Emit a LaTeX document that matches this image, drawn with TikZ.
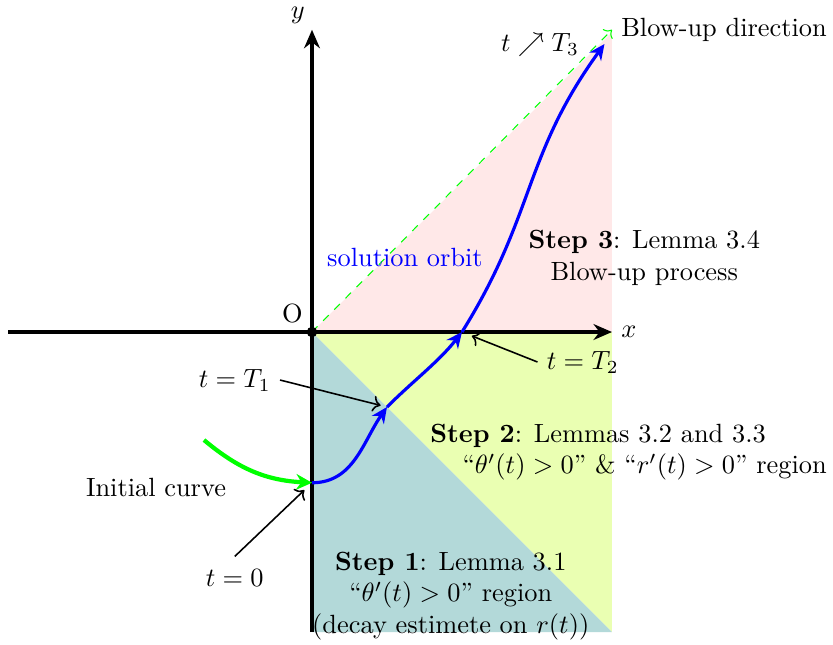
\documentclass[tikz,border=0pt]{standalone}
\usepackage{amsmath,amssymb}
\usetikzlibrary{positioning,arrows.meta,calc}
\definecolor{pinktint}{RGB}{255,232,232}
\definecolor{limetint}{RGB}{234,255,178}
\definecolor{tealtint}{RGB}{179,217,217}
\tikzset{
  axisline/.style={-{Stealth[length=7pt,width=6pt]}, very thick},
  orbit/.style={-{Stealth[length=6pt,width=5.5pt]}, very thick, color=blue},
  initcurve/.style={-{Stealth[length=6pt,width=6pt]}, ultra thick, color=green},
  pointer/.style={->, semithick},
  lab/.style={align=center, inner sep=2pt},
}

\begin{document}
\begin{tikzpicture}
    \useasboundingbox (-4.16,-4.173) rectangle (6.947,4.427);
    % regions
    \fill[pinktint] (0,0) -- (4,4) -- (4,0) -- cycle;
    \fill[limetint] (0,0) -- (4,0) -- (4,-4) -- cycle;
    \fill[tealtint] (0,0) -- (0,-4) -- (4,-4) -- cycle;
    % axes
    \coordinate (O) at (0,0);
    \coordinate (xend) at (4,0);
    \coordinate (yend) at (0,4.03);
    \draw[axisline] (-4.05,0) -- (xend);
    \draw[axisline] (0,-4) -- (yend);
    \node[right] (xlab) at (xend) {$x$};
    \node[inner sep=1pt] (ylab) at (-0.19,4.22) {$y$};
    \node[above left] (olab) at (O) {O};
    % blow-up direction
    \coordinate (dir) at (4,4.03);
    \draw[->, green, dashed] (O) -- (dir);
    \node[right] (dirlab) at (dir) {Blow-up direction};
    \fill (O) circle (2pt);
    % solution orbit
    \coordinate (start) at (0,-2.01);
    \coordinate (T1) at (1,-1);
    \coordinate (T2) at (2,0);
    \coordinate (T3) at (3.9,3.84);
    \draw[orbit] (start) to[out=0, in=235] (T1);
    \draw[orbit] (T1) to[out=45, in=232, looseness=0.9] (T2);
    \draw[orbit] (T2) to[out=58, in=234, looseness=1.1] (T3);
    \node (t3lab) at (3.04,3.83) {$t\nearrow T_3$};
    \node[blue] (orblab) at (1.24,0.99) {solution orbit};
    % initial curve
    \coordinate (init) at (-1.44,-1.44);
    \draw[initcurve] (init) to[out=-40, in=177] (start);
    \node (initlab) at (-2.08,-2.07) {Initial curve};
    % times
    \node (t0lab) at (-1.03,-3.28) {$t=0$};
    \node (t1lab) at (-1.03,-0.64) {$t=T_1$};
    \node (t2lab) at (3.61,-0.4) {$t=T_2$};
    \draw[pointer, shorten >=4pt] (t0lab.north) ++(0,0.05) coordinate (p0) (p0) -- (start);
    \draw[pointer, shorten >=2.5pt] (t1lab.east) -- (T1);
    \draw[pointer, shorten >=4pt] (t2lab.west) -- (T2);
    % steps
    \node[lab] (step3) at (4.43,0.99)
      {\textbf{Step 3}: Lemma 3.4\\Blow-up process};
    \node[lab, align=left, anchor=west] (step2) at (1.5,-1.6)
      {\textbf{Step 2}: Lemmas 3.2 and 3.3\\\hspace*{4.3mm}``$\theta'(t)>0$'' \& ``$r'(t)>0$'' region};
    \node[lab] (step1) at (1.85,-3.52)
      {\textbf{Step 1}: Lemma 3.1\\``$\theta'(t)>0$'' region\\(decay estimete on $r(t)$)};
  \end{tikzpicture}
\end{document}
